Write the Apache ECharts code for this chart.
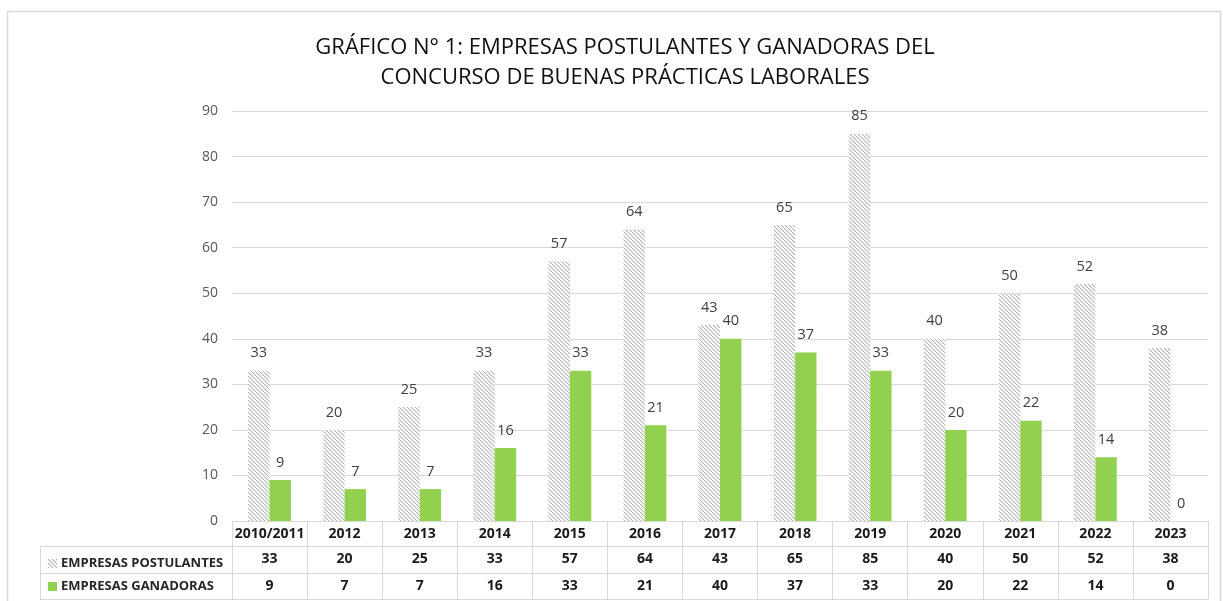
<!DOCTYPE html>
<html>
<head>
<meta charset="utf-8">
<script src="https://cdn.jsdelivr.net/npm/echarts@6/dist/echarts.min.js"></script>
<style>
  html, body { margin: 0; padding: 0; background: #fff; }
  #main { width: 1223px; height: 601px; }
</style>
</head>
<body>
<div id="main"></div>
<script>
// datos
const categories = ['2010/2011', '2012', '2013', '2014', '2015', '2016', '2017', '2018', '2019', '2020', '2021', '2022', '2023'];
const postulantes = [33, 20, 25, 33, 57, 64, 43, 65, 85, 40, 50, 52, 38];
const ganadoras = [9, 7, 7, 16, 33, 21, 40, 37, 33, 20, 22, 14, 0];
const yTicks = { min: 0, max: 90, interval: 10 };

const FONT = '"Open Sans", "Liberation Sans", sans-serif';
const LINE = '#d9d9d9';

// trama diagonal para las postulantes
function hatch() {
  const c = document.createElement('canvas');
  c.width = 4; c.height = 4;
  const ctx = c.getContext('2d');
  ctx.fillStyle = '#ffffff';
  ctx.fillRect(0, 0, 4, 4);
  ctx.strokeStyle = '#b3b3b3';
  ctx.lineWidth = 1.1;
  [-4, 0, 4].forEach(k => {
    ctx.beginPath();
    ctx.moveTo(k, 0);
    ctx.lineTo(k + 4, 4);
    ctx.stroke();
  });
  return c;
}

const chart = echarts.init(document.getElementById('main'));

const gridLeft = 232, gridRight = 1208, zeroY = 521;
const tableText = { interval: 0, margin: 6, fontSize: 14, fontWeight: 'bold', color: '#1a1a1a' };

const option = {
  animation: false,
  textStyle: { fontFamily: FONT },
  title: {
    text: 'GRÁFICO N° 1: EMPRESAS POSTULANTES Y GANADORAS DEL\nCONCURSO DE BUENAS PRÁCTICAS LABORALES',
    left: 620,
    top: 28,
    textAlign: 'center',
    textStyle: { fontFamily: FONT, fontSize: 22, fontWeight: 'normal', color: '#111111', lineHeight: 30 }
  },
  legend: {
    orient: 'vertical',
    left: 43,
    top: 552,
    itemWidth: 9,
    itemHeight: 9,
    itemGap: 10,
    icon: 'rect',
    textStyle: { fontFamily: FONT, fontSize: 13, fontWeight: 'bold', color: '#262626', padding: [0, 0, 0, -1] },
    data: ['EMPRESAS POSTULANTES', 'EMPRESAS GANADORAS']
  },
  grid: { left: gridLeft, right: 1223 - gridRight, top: 111, bottom: 601 - zeroY },
  xAxis: [
    {
      type: 'category',
      data: categories,
      axisLine: { lineStyle: { color: LINE } },
      axisTick: { show: true, interval: 0, length: 78, lineStyle: { color: LINE } },
      axisLabel: tableText
    },
    {
      type: 'category',
      data: postulantes.map(String),
      position: 'bottom',
      offset: 25,
      axisLine: { lineStyle: { color: LINE } },
      axisTick: { show: false },
      axisLabel: tableText
    },
    {
      type: 'category',
      data: ganadoras.map(String),
      position: 'bottom',
      offset: 52,
      axisLine: { lineStyle: { color: LINE } },
      axisTick: { show: false },
      axisLabel: tableText
    },
    {
      type: 'category',
      data: categories,
      position: 'bottom',
      offset: 78,
      axisLine: { lineStyle: { color: LINE } },
      axisTick: { show: false },
      axisLabel: { show: false }
    }
  ],
  yAxis: {
    type: 'value',
    min: yTicks.min,
    max: yTicks.max,
    interval: yTicks.interval,
    axisLine: { show: false },
    axisTick: { show: false },
    axisLabel: { margin: 14, fontSize: 14, color: '#595959' },
    splitLine: { lineStyle: { color: LINE, width: 1 } }
  },
  series: [
    {
      name: 'EMPRESAS POSTULANTES',
      type: 'bar',
      data: postulantes,
      barGap: 0,
      barCategoryGap: '43%',
      itemStyle: { color: { image: hatch(), repeat: 'repeat' } },
      label: { show: true, position: 'top', distance: 10, fontSize: 14.5, color: '#404040' }
    },
    {
      name: 'EMPRESAS GANADORAS',
      type: 'bar',
      data: ganadoras,
      barGap: 0,
      barCategoryGap: '43%',
      itemStyle: { color: '#92d050' },
      label: { show: true, position: 'top', distance: 10, fontSize: 14.5, color: '#404040' }
    }
  ],
  graphic: [
    // marco exterior
    { type: 'rect', shape: { x: 7.5, y: 11.5, width: 1213, height: 600 }, style: { fill: 'none', stroke: '#d9d9d9', lineWidth: 1.5 }, silent: true, z: -1 },
    // columna de rotulos de la tabla
    { type: 'line', shape: { x1: 40, y1: 546.5, x2: gridLeft, y2: 546.5 }, style: { stroke: LINE } },
    { type: 'line', shape: { x1: 40, y1: 573.5, x2: gridLeft, y2: 573.5 }, style: { stroke: LINE } },
    { type: 'line', shape: { x1: 40, y1: 599.5, x2: gridLeft, y2: 599.5 }, style: { stroke: LINE } },
    { type: 'line', shape: { x1: 40.5, y1: 546, x2: 40.5, y2: 600 }, style: { stroke: LINE } }
  ]
};

chart.setOption(option);
</script>
</body>
</html>
